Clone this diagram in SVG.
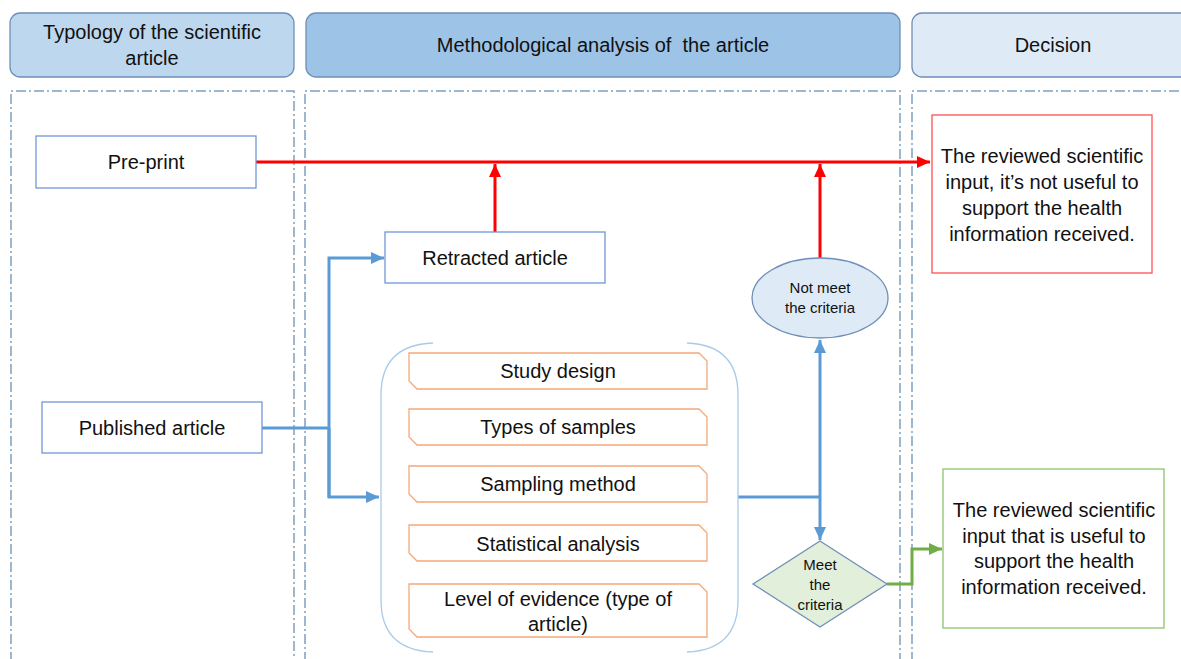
<svg xmlns="http://www.w3.org/2000/svg" width="1181" height="659" viewBox="0 0 1181 659">
<style>
text{font-family:"Liberation Sans",Arial,sans-serif;fill:#111;text-anchor:middle}
.t{font-size:20px}
.s{font-size:15px}
.hdr{stroke:#6f8fb8;stroke-width:1.3}
.lane{fill:none;stroke:#7f9fbf;stroke-width:1.5;stroke-dasharray:10 3 2 3}
.box{fill:#fff;stroke:#6f97d8;stroke-width:1.3}
.crit{fill:#fff;stroke:#f4a87a;stroke-width:1.3}
.red{fill:none;stroke:#ff0000;stroke-width:3}
.blue{fill:none;stroke:#5b9bd5;stroke-width:3}
.green{fill:none;stroke:#70ad47;stroke-width:3}
</style>
<defs>
<marker id="ar" markerUnits="userSpaceOnUse" markerWidth="14" markerHeight="12" refX="13" refY="6" orient="auto"><path d="M0 0L13 6L0 12z" fill="#ff0000"/></marker>
<marker id="ab" markerUnits="userSpaceOnUse" markerWidth="14" markerHeight="12" refX="13" refY="6" orient="auto"><path d="M0 0L13 6L0 12z" fill="#5b9bd5"/></marker>
<marker id="ag" markerUnits="userSpaceOnUse" markerWidth="14" markerHeight="12" refX="13" refY="6" orient="auto"><path d="M0 0L13 6L0 12z" fill="#70ad47"/></marker>
</defs>
<rect width="1181" height="659" fill="#fff"/>
<g id="lanes">
<path class="lane" d="M11 680V91H294V680"/>
<path class="lane" d="M305 680V91H900V680"/>
<path class="lane" d="M912 680V91H1195"/>
</g>
<g id="header-typology">
<rect class="hdr" x="10" y="13" width="284" height="64" rx="10" fill="#bdd7ee"/>
<text class="t" x="152" y="39">Typology of the scientific</text>
<text class="t" x="152" y="65">article</text>
</g>
<g id="header-method">
<rect class="hdr" x="306" y="13" width="594" height="64" rx="10" fill="#9dc3e6"/>
<text class="t" x="603" y="52" xml:space="preserve">Methodological analysis of  the article</text>
</g>
<g id="header-decision">
<rect class="hdr" x="912" y="13" width="290" height="64" rx="10" fill="#deebf7"/>
<text class="t" x="1053" y="52">Decision</text>
</g>
<g id="connectors">
<path class="red" d="M256 162H930" marker-end="url(#ar)"/>
<path class="red" d="M495 232V164" marker-end="url(#ar)"/>
<path class="red" d="M820 258V164" marker-end="url(#ar)"/>
<path class="blue" d="M262 428H329"/>
<path class="blue" d="M329 497V258H384" marker-end="url(#ab)"/>
<path class="blue" d="M329 428V497H379" marker-end="url(#ab)"/>
<path class="blue" d="M738 497H820"/>
<path class="blue" d="M820 497V340" marker-end="url(#ab)"/>
<path class="blue" d="M820 497V540" marker-end="url(#ab)"/>
<path class="green" d="M887 584H912V549H942" marker-end="url(#ag)"/>
</g>
<g id="pre-print">
<rect class="box" x="36" y="136" width="220" height="52"/>
<text class="t" x="146" y="169">Pre-print</text>
</g>
<g id="published-article">
<rect class="box" x="42" y="402" width="220" height="51"/>
<text class="t" x="152" y="435">Published article</text>
</g>
<g id="retracted-article">
<rect class="box" x="385" y="232" width="220" height="51"/>
<text class="t" x="495" y="265">Retracted article</text>
</g>
<g id="criteria-group">
<path d="M433 343Q381 345 381 395V600Q381 650 433 652M687 343Q738 345 738 395V600Q738 650 687 652" fill="none" stroke="#a9cbe9" stroke-width="1.3"/>
</g>
<g id="study-design">
<path class="crit" d="M409 353H699L707 361V389H417L409 381Z"/>
<text class="t" x="558" y="378">Study design</text>
</g>
<g id="types-of-samples">
<path class="crit" d="M409 409H699L707 417V445H417L409 437Z"/>
<text class="t" x="558" y="434">Types of samples</text>
</g>
<g id="sampling-method">
<path class="crit" d="M409 466H699L707 474V502H417L409 494Z"/>
<text class="t" x="558" y="491">Sampling method</text>
</g>
<g id="statistical-analysis">
<path class="crit" d="M409 525H699L707 533V561H417L409 553Z"/>
<text class="t" x="558" y="551">Statistical analysis</text>
</g>
<g id="level-of-evidence">
<path class="crit" d="M409 584H699L707 592V637H417L409 629Z"/>
<text class="t" x="558" y="606">Level of evidence (type of</text>
<text class="t" x="558" y="631">article)</text>
</g>
<g id="not-meet">
<ellipse cx="820" cy="298" rx="68" ry="40" fill="#deebf7" stroke="#6f8fb8" stroke-width="1.3"/>
<text class="s" x="820" y="293">Not meet</text>
<text class="s" x="820" y="313">the criteria</text>
</g>
<g id="meet">
<path d="M820 541L887 584L820 627L753 584Z" fill="#e2efda" stroke="#6f8fb8" stroke-width="1.3"/>
<text class="s" x="820" y="570">Meet</text>
<text class="s" x="820" y="590">the</text>
<text class="s" x="820" y="610">criteria</text>
</g>
<g id="not-useful">
<rect x="932" y="115" width="220" height="158" fill="#fff" stroke="#ff5050" stroke-width="1.3"/>
<text class="t" x="1042" y="163">The reviewed scientific</text>
<text class="t" x="1042" y="189">input, it’s not useful to</text>
<text class="t" x="1042" y="215">support the health</text>
<text class="t" x="1042" y="241">information received.</text>
</g>
<g id="useful">
<rect x="943" y="469" width="221" height="159" fill="#fff" stroke="#8fc46a" stroke-width="1.3"/>
<text class="t" x="1054" y="517">The reviewed scientific</text>
<text class="t" x="1054" y="543">input that is useful to</text>
<text class="t" x="1054" y="568">support the health</text>
<text class="t" x="1054" y="594">information received.</text>
</g>
</svg>
